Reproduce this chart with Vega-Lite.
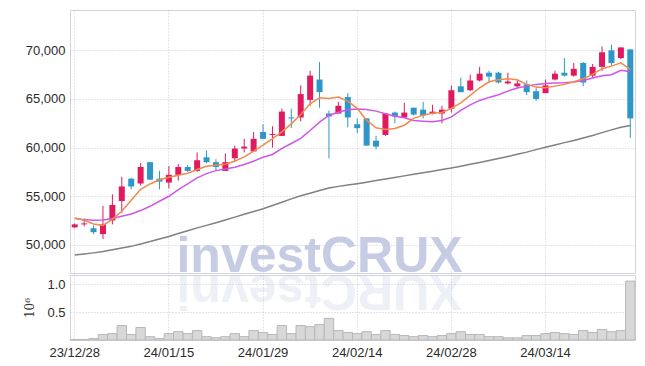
{
  "$schema": "https://vega.github.io/schema/vega-lite/v6.json",
  "background": "white",
  "padding": {"left": 23, "top": 9, "right": 5, "bottom": 5},
  "spacing": 0,
  "config": {
    "view": {"stroke": "#d2d3dc", "strokeWidth": 1},
    "axis": {"gridColor": "#c6c8da", "gridDash": [1, 2], "gridWidth": 1, "ticks": false, "domain": false, "labelFont": "Liberation Sans", "labelFontSize": 13, "labelColor": "#2b2b2b", "labelFontWeight": "normal"},
    "concat": {"spacing": 0}
  },
  "data": {"values": [
    {"d": "23/12/28", "o": 51800, "h": 52200, "l": 51700, "c": 52100, "v": 0.01, "a": 52760, "b": 52700, "g": 48950},
    {"d": "24/01/02", "o": 52100, "h": 52700, "l": 51900, "c": 52200, "v": 0.01, "a": 52520, "b": 52590, "g": 49050},
    {"d": "24/01/03", "o": 51700, "h": 52000, "l": 51100, "c": 51300, "v": 0.025, "a": 52140, "b": 52520, "g": 49170},
    {"d": "24/01/04", "o": 51100, "h": 54000, "l": 50600, "c": 52100, "v": 0.1, "a": 52000, "b": 52550, "g": 49300},
    {"d": "24/01/05", "o": 52500, "h": 55200, "l": 52100, "c": 54100, "v": 0.115, "a": 52620, "b": 52700, "g": 49480},
    {"d": "24/01/08", "o": 54500, "h": 57000, "l": 53300, "c": 56000, "v": 0.26, "a": 53450, "b": 52930, "g": 49660},
    {"d": "24/01/09", "o": 56800, "h": 56900, "l": 55700, "c": 56000, "v": 0.1, "a": 54580, "b": 53170, "g": 49840},
    {"d": "24/01/10", "o": 56300, "h": 58400, "l": 56100, "c": 58000, "v": 0.225, "a": 55710, "b": 53520, "g": 50090},
    {"d": "24/01/11", "o": 58500, "h": 58500, "l": 56700, "c": 56700, "v": 0.06, "a": 56260, "b": 53960, "g": 50330},
    {"d": "24/01/12", "o": 56800, "h": 57600, "l": 55700, "c": 56500, "v": 0.025, "a": 56690, "b": 54480, "g": 50600},
    {"d": "24/01/15", "o": 56400, "h": 58100, "l": 55800, "c": 57200, "v": 0.115, "a": 56950, "b": 54990, "g": 50860},
    {"d": "24/01/16", "o": 57200, "h": 58300, "l": 56600, "c": 58000, "v": 0.15, "a": 57160, "b": 55680, "g": 51160},
    {"d": "24/01/17", "o": 58000, "h": 58200, "l": 57500, "c": 57600, "v": 0.115, "a": 57360, "b": 56260, "g": 51450},
    {"d": "24/01/18", "o": 57600, "h": 59500, "l": 57500, "c": 58700, "v": 0.17, "a": 57740, "b": 56880, "g": 51740},
    {"d": "24/01/19", "o": 59000, "h": 59700, "l": 58400, "c": 58500, "v": 0.06, "a": 58080, "b": 57320, "g": 52000},
    {"d": "24/01/22", "o": 58500, "h": 58800, "l": 57600, "c": 58000, "v": 0.04, "a": 58190, "b": 57630, "g": 52270},
    {"d": "24/01/23", "o": 57600, "h": 59400, "l": 57600, "c": 58500, "v": 0.06, "a": 58290, "b": 57800, "g": 52560},
    {"d": "24/01/24", "o": 58900, "h": 60200, "l": 58600, "c": 59900, "v": 0.115, "a": 58590, "b": 57980, "g": 52850},
    {"d": "24/01/25", "o": 59900, "h": 60900, "l": 59500, "c": 60100, "v": 0.06, "a": 59050, "b": 58260, "g": 53140},
    {"d": "24/01/26", "o": 59600, "h": 61600, "l": 59600, "c": 60900, "v": 0.17, "a": 59630, "b": 58600, "g": 53420},
    {"d": "24/01/29", "o": 61600, "h": 62400, "l": 60900, "c": 60900, "v": 0.135, "a": 60250, "b": 59010, "g": 53710},
    {"d": "24/01/30", "o": 61300, "h": 62200, "l": 60000, "c": 61400, "v": 0.1, "a": 60930, "b": 59290, "g": 54050},
    {"d": "24/01/31", "o": 61200, "h": 64000, "l": 61200, "c": 63700, "v": 0.26, "a": 61620, "b": 59910, "g": 54380},
    {"d": "24/02/01", "o": 63100, "h": 64000, "l": 62000, "c": 63000, "v": 0.115, "a": 62440, "b": 60420, "g": 54720},
    {"d": "24/02/02", "o": 63100, "h": 66400, "l": 62700, "c": 65500, "v": 0.26, "a": 63410, "b": 60940, "g": 55040},
    {"d": "24/02/05", "o": 64900, "h": 67900, "l": 64300, "c": 67400, "v": 0.24, "a": 64500, "b": 61760, "g": 55310},
    {"d": "24/02/06", "o": 67000, "h": 68800, "l": 64100, "c": 65700, "v": 0.28, "a": 65120, "b": 62610, "g": 55580},
    {"d": "24/02/07", "o": 63500, "h": 63800, "l": 58900, "c": 63200, "v": 0.39, "a": 65060, "b": 63300, "g": 55840},
    {"d": "24/02/08", "o": 63500, "h": 64700, "l": 63500, "c": 64300, "v": 0.17, "a": 65190, "b": 63640, "g": 56010},
    {"d": "24/02/13", "o": 65200, "h": 65600, "l": 62100, "c": 63100, "v": 0.135, "a": 64780, "b": 63880, "g": 56140},
    {"d": "24/02/14", "o": 62400, "h": 63000, "l": 61500, "c": 62000, "v": 0.115, "a": 64030, "b": 63980, "g": 56280},
    {"d": "24/02/15", "o": 63000, "h": 63000, "l": 60200, "c": 60200, "v": 0.15, "a": 62790, "b": 63920, "g": 56440},
    {"d": "24/02/16", "o": 60700, "h": 61200, "l": 59800, "c": 60100, "v": 0.1, "a": 62030, "b": 63750, "g": 56610},
    {"d": "24/02/19", "o": 61300, "h": 63500, "l": 61200, "c": 63500, "v": 0.17, "a": 61850, "b": 63470, "g": 56760},
    {"d": "24/02/20", "o": 63600, "h": 63700, "l": 62500, "c": 63200, "v": 0.1, "a": 61960, "b": 63230, "g": 56920},
    {"d": "24/02/21", "o": 63100, "h": 64600, "l": 63100, "c": 63600, "v": 0.08, "a": 62300, "b": 63060, "g": 57090},
    {"d": "24/02/22", "o": 64100, "h": 64100, "l": 63300, "c": 63400, "v": 0.06, "a": 63000, "b": 62790, "g": 57250},
    {"d": "24/02/23", "o": 63900, "h": 64700, "l": 63000, "c": 63300, "v": 0.08, "a": 63340, "b": 62720, "g": 57410},
    {"d": "24/02/26", "o": 63500, "h": 64400, "l": 63400, "c": 63700, "v": 0.06, "a": 63540, "b": 62650, "g": 57570},
    {"d": "24/02/27", "o": 63500, "h": 64300, "l": 62500, "c": 63900, "v": 0.08, "a": 63610, "b": 62790, "g": 57740},
    {"d": "24/02/28", "o": 64000, "h": 66400, "l": 63600, "c": 65900, "v": 0.115, "a": 64030, "b": 63160, "g": 57900},
    {"d": "24/02/29", "o": 66300, "h": 67200, "l": 65700, "c": 65700, "v": 0.15, "a": 64600, "b": 63820, "g": 58090},
    {"d": "24/03/04", "o": 65900, "h": 67500, "l": 65800, "c": 66900, "v": 0.1, "a": 65360, "b": 64400, "g": 58280},
    {"d": "24/03/05", "o": 66900, "h": 68300, "l": 66800, "c": 67600, "v": 0.1, "a": 66150, "b": 64850, "g": 58470},
    {"d": "24/03/06", "o": 67700, "h": 67900, "l": 66700, "c": 67300, "v": 0.06, "a": 66770, "b": 65160, "g": 58670},
    {"d": "24/03/07", "o": 67700, "h": 67800, "l": 66600, "c": 66700, "v": 0.06, "a": 66980, "b": 65430, "g": 58880},
    {"d": "24/03/08", "o": 66600, "h": 67700, "l": 66500, "c": 66800, "v": 0.04, "a": 67080, "b": 65810, "g": 59090},
    {"d": "24/03/11", "o": 66300, "h": 67000, "l": 66100, "c": 66600, "v": 0.04, "a": 66980, "b": 66120, "g": 59310},
    {"d": "24/03/12", "o": 66500, "h": 66900, "l": 65400, "c": 65700, "v": 0.08, "a": 66500, "b": 66320, "g": 59530},
    {"d": "24/03/13", "o": 65800, "h": 66200, "l": 64800, "c": 65000, "v": 0.08, "a": 66220, "b": 66500, "g": 59790},
    {"d": "24/03/14", "o": 65600, "h": 67000, "l": 65600, "c": 66400, "v": 0.115, "a": 66150, "b": 66600, "g": 60030},
    {"d": "24/03/15", "o": 67000, "h": 67900, "l": 66900, "c": 67600, "v": 0.135, "a": 66320, "b": 66630, "g": 60270},
    {"d": "24/03/18", "o": 67700, "h": 69200, "l": 67300, "c": 67400, "v": 0.115, "a": 66500, "b": 66660, "g": 60510},
    {"d": "24/03/19", "o": 67400, "h": 68700, "l": 67300, "c": 68100, "v": 0.1, "a": 66770, "b": 66740, "g": 60730},
    {"d": "24/03/20", "o": 68700, "h": 68800, "l": 66300, "c": 66700, "v": 0.17, "a": 67080, "b": 66910, "g": 60990},
    {"d": "24/03/21", "o": 67400, "h": 68600, "l": 67200, "c": 68300, "v": 0.135, "a": 67530, "b": 67150, "g": 61250},
    {"d": "24/03/22", "o": 68300, "h": 70400, "l": 67900, "c": 69800, "v": 0.19, "a": 68110, "b": 67390, "g": 61540},
    {"d": "24/03/25", "o": 70000, "h": 70600, "l": 68400, "c": 68700, "v": 0.15, "a": 68380, "b": 67490, "g": 61820},
    {"d": "24/03/26", "o": 69200, "h": 70300, "l": 69100, "c": 70300, "v": 0.17, "a": 68720, "b": 67940, "g": 62080},
    {"d": "24/03/27", "o": 70100, "h": 70100, "l": 61000, "c": 63000, "v": 1.06, "a": 68040, "b": 67800, "g": 62260}
  ]},
  "vconcat": [
    {
      "width": 565,
      "height": 263,
      "encoding": {
        "x": {"field": "d", "type": "ordinal", "sort": null,
          "scale": {"paddingInner": 0, "paddingOuter": 0, "domain": ["23/12/28","24/01/02","24/01/03","24/01/04","24/01/05","24/01/08","24/01/09","24/01/10","24/01/11","24/01/12","24/01/15","24/01/16","24/01/17","24/01/18","24/01/19","24/01/22","24/01/23","24/01/24","24/01/25","24/01/26","24/01/29","24/01/30","24/01/31","24/02/01","24/02/02","24/02/05","24/02/06","24/02/07","24/02/08","24/02/13","24/02/14","24/02/15","24/02/16","24/02/19","24/02/20","24/02/21","24/02/22","24/02/23","24/02/26","24/02/27","24/02/28","24/02/29","24/03/04","24/03/05","24/03/06","24/03/07","24/03/08","24/03/11","24/03/12","24/03/13","24/03/14","24/03/15","24/03/18","24/03/19","24/03/20","24/03/21","24/03/22","24/03/25","24/03/26","24/03/27"]},
          "axis": {"labels": false, "title": null, "grid": true, "minExtent": 0, "maxExtent": 0, "labelPadding": 0, "values": ["23/12/28","24/01/15","24/01/29","24/02/14","24/02/28","24/03/14"]}}
      },
      "layer": [
        {
          "data": {"values": [{"d": "24/02/06", "p": 47250, "t": "investCRUX"}]},
          "mark": {"type": "text", "font": "Liberation Sans", "fontWeight": "bold", "fontSize": 50, "color": "#c6cce3", "align": "center", "baseline": "alphabetic", "clip": true},
          "encoding": {
            "y": {"field": "p", "type": "quantitative", "scale": {"domain": [47100, 74150], "nice": false, "zero": false}, "axis": {"title": null, "grid": true, "values": [50000, 55000, 60000, 65000, 70000], "format": ",d", "labelPadding": 5}},
            "text": {"field": "t"}
          }
        },
        {
          "mark": {"type": "line", "color": "#808080", "strokeWidth": 1.5},
          "encoding": {"y": {"field": "g", "type": "quantitative", "scale": {"domain": [47100, 74150], "nice": false, "zero": false}, "axis": {"title": null, "grid": true, "values": [50000, 55000, 60000, 65000, 70000], "format": ",d", "labelPadding": 5}}}
        },
        {
          "mark": {"type": "rule", "strokeWidth": 1},
          "encoding": {
            "y": {"field": "l", "type": "quantitative", "scale": {"domain": [47100, 74150], "nice": false, "zero": false}, "axis": {"title": null, "grid": true, "values": [50000, 55000, 60000, 65000, 70000], "format": ",d", "labelPadding": 5}},
            "y2": {"field": "h"},
            "color": {"condition": {"test": "datum.c >= datum.o", "value": "#e01a5e"}, "value": "#2e96c8"}
          }
        },
        {
          "mark": {"type": "bar", "size": 6},
          "encoding": {
            "y": {"field": "o", "type": "quantitative", "scale": {"domain": [47100, 74150], "nice": false, "zero": false}, "axis": {"title": null, "grid": true, "values": [50000, 55000, 60000, 65000, 70000], "format": ",d", "labelPadding": 5}},
            "y2": {"field": "c"},
            "color": {"condition": {"test": "datum.c >= datum.o", "value": "#e01a5e"}, "value": "#2e96c8"}
          }
        },
        {
          "mark": {"type": "line", "color": "#cf55ea", "strokeWidth": 1.5},
          "encoding": {"y": {"field": "b", "type": "quantitative", "scale": {"domain": [47100, 74150], "nice": false, "zero": false}, "axis": {"title": null, "grid": true, "values": [50000, 55000, 60000, 65000, 70000], "format": ",d", "labelPadding": 5}}}
        },
        {
          "mark": {"type": "line", "color": "#f08a4e", "strokeWidth": 1.5},
          "encoding": {"y": {"field": "a", "type": "quantitative", "scale": {"domain": [47100, 74150], "nice": false, "zero": false}, "axis": {"title": null, "grid": true, "values": [50000, 55000, 60000, 65000, 70000], "format": ",d", "labelPadding": 5}}}
        }
      ]
    },
    {
      "width": 565,
      "height": 65,
      "encoding": {
        "x": {"field": "d", "type": "ordinal", "sort": null,
          "scale": {"paddingInner": 0, "paddingOuter": 0, "domain": ["23/12/28","24/01/02","24/01/03","24/01/04","24/01/05","24/01/08","24/01/09","24/01/10","24/01/11","24/01/12","24/01/15","24/01/16","24/01/17","24/01/18","24/01/19","24/01/22","24/01/23","24/01/24","24/01/25","24/01/26","24/01/29","24/01/30","24/01/31","24/02/01","24/02/02","24/02/05","24/02/06","24/02/07","24/02/08","24/02/13","24/02/14","24/02/15","24/02/16","24/02/19","24/02/20","24/02/21","24/02/22","24/02/23","24/02/26","24/02/27","24/02/28","24/02/29","24/03/04","24/03/05","24/03/06","24/03/07","24/03/08","24/03/11","24/03/12","24/03/13","24/03/14","24/03/15","24/03/18","24/03/19","24/03/20","24/03/21","24/03/22","24/03/25","24/03/26","24/03/27"]},
          "axis": {"title": null, "grid": true, "labelAngle": 0, "labelPadding": 6, "values": ["23/12/28","24/01/15","24/01/29","24/02/14","24/02/28","24/03/14"]}}
      },
      "layer": [
        {
          "data": {"values": [{"d": "24/02/06", "p": 1.17, "t": "XURCtsevni"}]},
          "mark": {"type": "text", "font": "Liberation Sans", "fontWeight": "bold", "fontSize": 50, "color": "#c6cce3", "opacity": 0.28, "align": "center", "baseline": "alphabetic", "angle": 180, "clip": true},
          "encoding": {
            "y": {"field": "p", "type": "quantitative", "scale": {"domain": [0, 1.17], "nice": false}, "axis": {"title": "10⁶", "titleFont": "DejaVu Serif", "titleFontWeight": "normal", "titleFontSize": 12, "titleColor": "#333", "titlePadding": 10, "grid": true, "values": [0.5, 1.0], "format": ".1f", "labelPadding": 5}},
            "text": {"field": "t"}
          }
        },
        {
          "mark": {"type": "bar", "fill": "#d8d8d8", "stroke": "#b8b8b8", "strokeWidth": 1},
          "encoding": {
            "y": {"field": "v", "type": "quantitative", "scale": {"domain": [0, 1.17], "nice": false}, "axis": {"title": "10⁶", "titleFont": "DejaVu Serif", "titleFontWeight": "normal", "titleFontSize": 12, "titleColor": "#333", "titlePadding": 10, "grid": true, "values": [0.5, 1.0], "format": ".1f", "labelPadding": 5}}
          }
        }
      ]
    }
  ]
}
